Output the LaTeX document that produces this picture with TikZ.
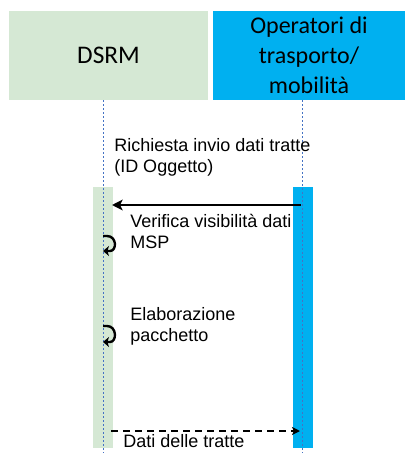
\documentclass[tikz,border=0pt]{standalone}
\usepackage{fontspec}
\setmainfont{Liberation Sans}
\newfontfamily\headfont{Carlito}
\usetikzlibrary{arrows.meta}
\definecolor{dsrmgreen}{RGB}{213,232,212}
\definecolor{opblue}{RGB}{0,176,240}
\definecolor{lifeblue}{RGB}{68,114,196}

\begin{document}
\begin{tikzpicture}[x=0.75pt,y=0.75pt,yscale=-1,xscale=1,
  header/.style={minimum height=66.75pt,inner sep=0pt,align=center,font=\headfont\fontsize{18}{22.5}\selectfont},
  actbar/.style={minimum width=15pt,minimum height=195.75pt,inner sep=0pt},
  lifeline/.style={color=lifeblue,line width=0.6pt,dash pattern={on 1.5pt off 1.5pt}},
  msg/.style={line width=1.9pt,-{Stealth[length=8pt,width=8pt,inset=2pt]}},
  selfmsg/.style={line width=1.8pt,-{Stealth[length=4.5pt,width=7.5pt,inset=1.2pt]}},
  msgtext/.style={anchor=base west,inner sep=0pt,align=left,font=\fontsize{13.5}{15.75}\selectfont}
]
\useasboundingbox (0,0) rectangle (406,453);

% Header boxes
\node [header,fill=dsrmgreen,minimum width=149.25pt,font=\headfont\fontsize{19}{22.5}\selectfont] (dsrm) at (108.5,55.5) {DSRM};
\node [header,fill=opblue,minimum width=144pt] (oper) at (309,55.5) {Operatori di\\trasporto/\\mobilità};

% Activation bars
\node [actbar,fill=dsrmgreen] (dsrmbar) at (103,317.5) {};
\node [actbar,fill=opblue] (operbar) at (303,317.5) {};

% Lifelines
\coordinate (dsrmend) at (103,453);
\coordinate (operend) at (302,453);
\draw [lifeline] (dsrm.south -| dsrmend) -- (dsrmend);
\draw [lifeline] (oper.south -| operend) -- (operend);

% Request
\coordinate (reqfrom) at (301,205);
\coordinate (reqto) at (112,205);
\draw [msg] (reqfrom) -- (reqto);
\node [msgtext] (reqtext) at (114,172) {Richiesta invio dati tratte\\(ID Oggetto)};

% Self call 1
\coordinate (chk1) at (103,236);
\coordinate (chk2) at (103,251);
\draw [selfmsg] (chk1) -- ++(4,0) .. controls (117,236) and (117,251) .. (110,251) -- (chk2);
\node [msgtext] (chktext) at (130,248) {Verifica visibilità dati\\MSP};

% Self call 2
\coordinate (elab1) at (103,326);
\coordinate (elab2) at (103,342);
\draw [selfmsg] (elab1) -- ++(4,0) .. controls (117,326) and (117,342) .. (110,342) -- (elab2);
\node [msgtext] (elabtext) at (130,341) {Elaborazione\\pacchetto};

% Reply
\coordinate (datafrom) at (111,431);
\coordinate (datato) at (300,431);
\draw [msg,line width=1.5pt,dash pattern={on 5pt off 4pt},-{Stealth[length=6pt,width=6pt,inset=1.5pt]}] (datafrom) -- (datato);
\node [msgtext] (datatext) at (123,447) {Dati delle tratte};

\end{tikzpicture}
\end{document}
